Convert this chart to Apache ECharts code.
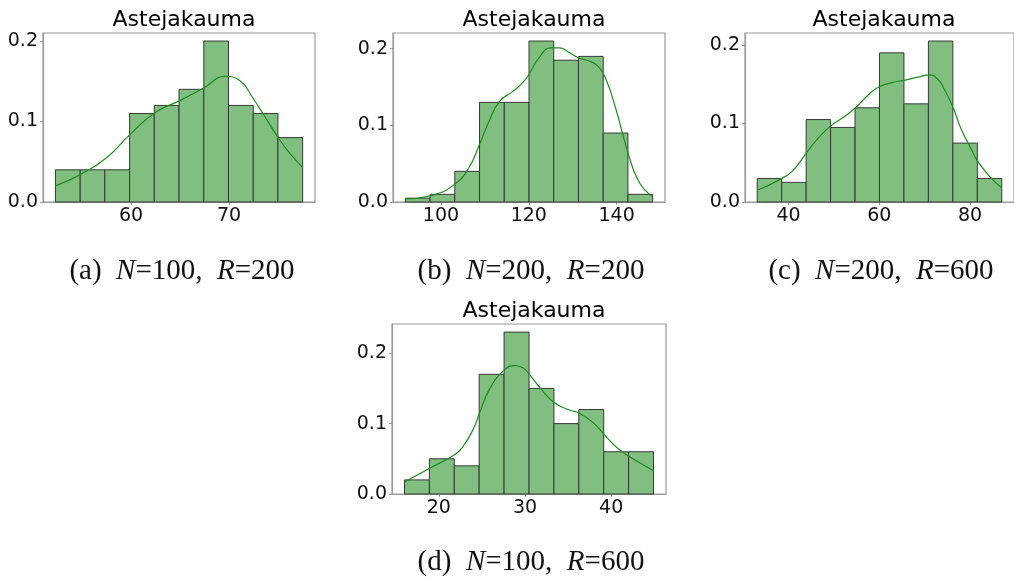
<!DOCTYPE html>
<html>
<head>
<meta charset="utf-8">
<title>Astejakauma</title>
<script src="https://cdn.jsdelivr.net/npm/echarts@6/dist/echarts.min.js"></script>
<style>
  html, body { margin: 0; padding: 0; background: #fff; }
  #chart { width: 1014px; height: 581px; }
</style>
</head>
<body>
<div id="chart"></div>
<script>
// bin edges and bar heights (probability) for each panel
const edgesA = [52.27, 54.80, 57.32, 59.85, 62.37, 64.90, 67.43, 69.95, 72.48, 75.00, 77.53];
const probA = [0.04, 0.04, 0.04, 0.11, 0.12, 0.14, 0.20, 0.12, 0.11, 0.08];
const edgesB = [91.90, 97.53, 103.16, 108.79, 114.42, 120.05, 125.68, 131.31, 136.94, 142.57, 148.20];
const probB = [0.005, 0.01, 0.04, 0.13, 0.13, 0.21, 0.185, 0.19, 0.09, 0.01];
const edgesC = [33.09, 38.48, 43.87, 49.26, 54.65, 60.04, 65.42, 70.81, 76.20, 81.59, 86.98];
const probC = [0.03, 0.025, 0.105, 0.095, 0.12, 0.19, 0.125, 0.205, 0.075, 0.03];
const edgesD = [16.01, 18.90, 21.79, 24.68, 27.57, 30.47, 33.36, 36.25, 39.14, 42.03, 44.92];
const probD = [0.02, 0.05, 0.04, 0.17, 0.23, 0.15, 0.10, 0.12, 0.06, 0.06];

// kde curves, [x, y]
const kdeA = [[52.27, 0.020], [54.81, 0.034], [57.39, 0.054], [59.90, 0.084], [62.44, 0.111],
  [64.98, 0.126], [67.46, 0.142], [69.6, 0.156], [71.09, 0.151], [72.51, 0.128], [73.46, 0.110],
  [75.03, 0.080], [76.18, 0.061], [77.53, 0.043]];
const kdeB = [[91.9, 0.004], [97.57, 0.008], [103.1, 0.023], [106.4, 0.045], [108.7, 0.074], [111.0, 0.106], [113.3, 0.131],
  [116.3, 0.144], [118.5, 0.155], [120.1, 0.167], [122.3, 0.188], [125.0, 0.201], [127.0, 0.201],
  [129.2, 0.195], [131.3, 0.188], [133.7, 0.184], [135.8, 0.177], [137.5, 0.161], [139.8, 0.122], [142.5, 0.066],
  [145.1, 0.026], [148.1, 0.0074]];
const kdeC = [[33.09, 0.015], [38.04, 0.0285], [40.95, 0.040], [43.85, 0.062], [46.76, 0.083], [49.3, 0.097],
  [51.84, 0.107], [54.75, 0.12], [57.67, 0.137], [60.07, 0.147], [62.75, 0.152], [65.44, 0.155], [68.57, 0.159],
  [70.9, 0.162], [72.93, 0.156], [74.39, 0.143], [76.27, 0.120], [78.02, 0.093], [80.2, 0.068], [81.66, 0.052],
  [84.56, 0.031], [86.96, 0.018]];
const kdeD = [[16.01, 0.017], [18.99, 0.037], [21.86, 0.056], [22.83, 0.068],
  [23.99, 0.092], [24.69, 0.114], [25.93, 0.150], [27.6, 0.176], [28.84, 0.1825], [29.81, 0.179], [30.5, 0.170],
  [31.74, 0.151], [33.37, 0.130], [35.23, 0.119], [36.28, 0.115], [37.94, 0.101], [39.15, 0.085], [40.66, 0.066],
  [42.01, 0.054], [43.37, 0.044], [44.92, 0.033]];

// axis ranges and tick labels
const xRanges = [[51.00, 78.79], [89.09, 151.01], [30.40, 89.67], [14.56, 46.37]];
const yMax = [0.21, 0.2205, 0.21525, 0.2415];
const xTicks = [[60, 70], [100, 120, 140], [40, 60, 80], [20, 30, 40]];
const yTicks = [0, 0.1, 0.2];
const captions = ['(a)', '(b)', '(c)', '(d)'];
const nVals = [100, 200, 200, 100];
const rVals = [200, 200, 600, 600];
const titleText = 'Astejakauma';

const grids = [
  { left: 43, top: 33, width: 272, height: 169 },
  { left: 393, top: 33, width: 272, height: 169 },
  { left: 745, top: 33, width: 272, height: 169 },
  { left: 392, top: 324, width: 274, height: 170 }
];
const captionPos = [[182, 271], [531, 271], [881, 271], [531, 562]];

const edges = [edgesA, edgesB, edgesC, edgesD];
const probs = [probA, probB, probC, probD];
const kdes = [kdeA, kdeB, kdeC, kdeD];

const spine = '#9a9a9a';
const sans = 'DejaVu Sans';

let chart = echarts.init(document.getElementById('chart'));

let xAxis = [], yAxis = [], series = [], title = [], graphic = [];
grids.forEach((g, i) => {
  g.show = true;
  g.borderColor = spine;
  g.borderWidth = 1.2;
  g.backgroundColor = '#fff';
  xAxis.push({
    type: 'value', gridIndex: i,
    min: xRanges[i][0], max: xRanges[i][1],
    axisLine: { show: true, lineStyle: { color: spine, width: 1.2 } },
    axisTick: { show: true, length: 3, customValues: xTicks[i], lineStyle: { color: spine } },
    axisLabel: { customValues: xTicks[i], margin: 5, fontSize: 19, color: '#111', fontFamily: sans },
    splitLine: { show: false }
  });
  yAxis.push({
    type: 'value', gridIndex: i,
    min: 0, max: yMax[i],
    axisLine: { show: true, lineStyle: { color: spine, width: 1.2 } },
    axisTick: { show: true, length: 3, customValues: yTicks, lineStyle: { color: spine } },
    axisLabel: {
      customValues: yTicks, margin: 5, fontSize: 19, color: '#111', fontFamily: sans,
      formatter: v => v.toFixed(1)
    },
    splitLine: { show: false }
  });
  let bars = probs[i].map((p, k) => [edges[i][k], edges[i][k + 1], p]);
  series.push({
    type: 'custom', xAxisIndex: i, yAxisIndex: i,
    data: bars,
    encode: { x: [0, 1], y: 2 },
    renderItem: (params, api) => {
      let p0 = api.coord([api.value(0), api.value(2)]);
      let p1 = api.coord([api.value(1), 0]);
      return {
        type: 'rect',
        shape: { x: p0[0], y: p0[1], width: p1[0] - p0[0], height: p1[1] - p0[1] },
        style: { fill: '#80bf80', stroke: '#383838', lineWidth: 1 }
      };
    },
    z: 2
  });
  series.push({
    type: 'line', xAxisIndex: i, yAxisIndex: i,
    data: kdes[i],
    smooth: 0.5,
    showSymbol: false,
    lineStyle: { color: '#1e8c1e', width: 1.2 },
    z: 3
  });
  title.push({
    text: titleText,
    left: g.left + g.width / 2 - (i === 2 ? 2 : 0),
    top: g.top - 29,
    textAlign: 'center',
    textStyle: { fontSize: 22, fontWeight: 'normal', color: '#000', fontFamily: sans }
  });
  graphic.push({
    type: 'text',
    x: captionPos[i][0], y: captionPos[i][1],
    style: {
      text: captions[i] + '  {i|N}=' + nVals[i] + ',  {i|R}=' + rVals[i],
      font: '29px "Liberation Serif"',
      fill: '#111',
      align: 'center',
      verticalAlign: 'middle',
      rich: { i: { fontStyle: 'italic', fontSize: 29, fontFamily: 'Liberation Serif', fill: '#111' } }
    }
  });
});

let option = {
  animation: false,
  backgroundColor: '#fff',
  title: title,
  grid: grids,
  xAxis: xAxis,
  yAxis: yAxis,
  series: series,
  graphic: graphic
};
chart.setOption(option);
</script>
</body>
</html>
